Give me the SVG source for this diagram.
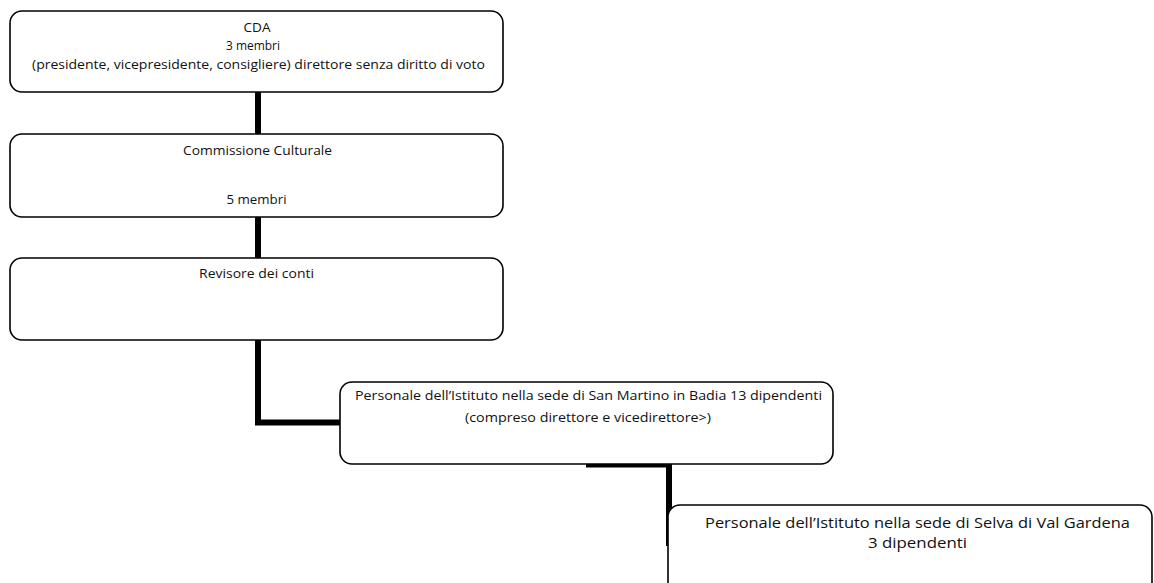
<svg xmlns="http://www.w3.org/2000/svg" width="1154" height="583" viewBox="0 0 1154 583">
<style>
.box{fill:#fff;stroke:#000;stroke-width:1.6}
.conn{fill:none;stroke:#000;stroke-width:6}
text{font-family:"Open Sans","Noto Sans","Liberation Sans",sans-serif;font-size:12.3px;fill:#111;text-anchor:middle}
.big{font-size:13.8px}
</style>
<rect width="1154" height="583" fill="#fff"/>
<g id="connectors">
<path class="conn" d="M258 92 V134"/>
<path class="conn" d="M258 217 V258"/>
<path class="conn" d="M258 340 V422.5 H340"/>
<path class="conn" d="M586 464.5 H669 V546"/>
</g>
<g id="cda">
<rect class="box" x="10" y="11" width="493" height="81" rx="12"/>
<text x="257" y="32" textLength="27" lengthAdjust="spacingAndGlyphs">CDA</text>
<text x="253" y="50" textLength="54" lengthAdjust="spacingAndGlyphs">3 membri</text>
<text x="258.5" y="69" textLength="453" lengthAdjust="spacingAndGlyphs">(presidente, vicepresidente, consigliere)  direttore senza diritto di voto</text>
</g>
<g id="commissione">
<rect class="box" x="10" y="134" width="493" height="83" rx="12"/>
<text x="257.5" y="155" textLength="149" lengthAdjust="spacingAndGlyphs">Commissione Culturale</text>
<text x="256.5" y="204" textLength="60" lengthAdjust="spacingAndGlyphs">5 membri</text>
</g>
<g id="revisore">
<rect class="box" x="10" y="258" width="493" height="82" rx="12"/>
<text x="256.5" y="278" textLength="115" lengthAdjust="spacingAndGlyphs">Revisore dei conti</text>
</g>
<g id="san-martino">
<rect class="box" x="340" y="382" width="493" height="82" rx="12"/>
<text x="588.5" y="400" textLength="467" lengthAdjust="spacingAndGlyphs">Personale dell’Istituto nella sede di San Martino in Badia 13 dipendenti</text>
<text x="588" y="422" textLength="246" lengthAdjust="spacingAndGlyphs">(compreso direttore e vicedirettore&gt;)</text>
</g>
<g id="selva">
<rect class="box" x="668" y="505" width="484" height="100" rx="12"/>
<text class="big" x="917.5" y="528" textLength="425" lengthAdjust="spacingAndGlyphs">Personale dell’Istituto nella sede di Selva di Val Gardena</text>
<text class="big" x="917.5" y="548" textLength="99" lengthAdjust="spacingAndGlyphs">3 dipendenti</text>
</g>
</svg>
